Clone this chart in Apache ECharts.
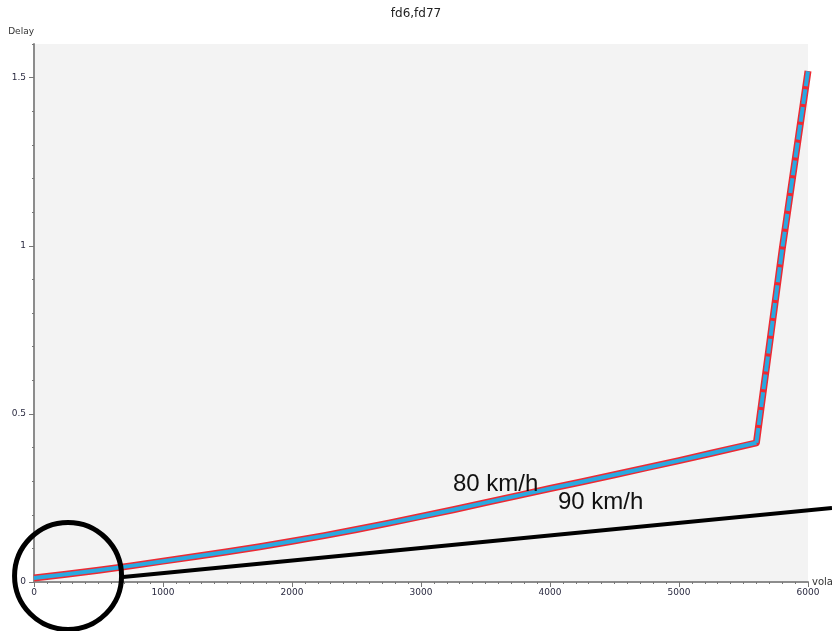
<!DOCTYPE html>
<html>
<head>
<meta charset="utf-8">
<title>fd6,fd77</title>
<script src="https://cdn.jsdelivr.net/npm/echarts@6/dist/echarts.min.js"></script>
<style>
    html, body { margin: 0; padding: 0; background: #fff; }
    #main { width: 832px; height: 631px; }
</style>
</head>
<body>
<div id="main"></div>
<script>
// 数据
var volau = [0, 250, 500, 750, 1000, 1250, 1500, 1750, 2000, 2250, 2500, 2750, 3000,
             3250, 3500, 3750, 4000, 4250, 4500, 4750, 5000, 5250, 5500, 5600, 5800, 6000];
var delay80 = [0.012, 0.023, 0.035, 0.048, 0.062, 0.076, 0.090, 0.105, 0.121, 0.138, 0.156, 0.175, 0.195,
               0.215, 0.236, 0.257, 0.278, 0.298, 0.319, 0.340, 0.361, 0.383, 0.405, 0.414, 0.99, 1.52];
var kneeVolau = 5600; // 之后画虚线

// 90 km/h 黑线 (标注, 画到图外)
var line90x = [690, 6186];
var line90y = [0.015, 0.220];

// 圈
var circleAt = [264, 0.018];

var yLabels = [0, 0.5, 1, 1.5];
var xLabels = [0, 1000, 2000, 3000, 4000, 5000, 6000];

function pairs(xs, ys) {
    var out = [];
    for (var i = 0; i < xs.length; i++) {
        out.push([xs[i], ys[i]]);
    }
    return out;
}

var all80 = pairs(volau, delay80);
var kneeIndex = volau.indexOf(kneeVolau);
var solid80 = all80.slice(0, kneeIndex + 1);
var dash80 = all80.slice(kneeIndex);

var labelFont = { fontFamily: 'DejaVu Sans', fontSize: 9, color: '#2a2a40' };
var axisLineGrey = { lineStyle: { color: '#8c8c8c', width: 2 } };
var plain = function (v) { return String(v); };

var myChart = echarts.init(document.getElementById('main'));
myChart.setOption({
    animation: false,
    title: {
        text: 'fd6,fd77',
        left: 'center',
        top: 3,
        textStyle: { fontFamily: 'DejaVu Sans', fontSize: 12, fontWeight: 'normal', color: '#222' }
    },
    grid: {
        left: 34, right: 24, top: 44, bottom: 49,
        outerBoundsMode: 'none',
        show: true, backgroundColor: '#f3f3f3', borderWidth: 0
    },
    xAxis: [{
        type: 'value',
        min: 0, max: 6000, interval: 100,
        name: 'volau',
        nameLocation: 'end',
        nameGap: 4,
        nameTextStyle: { fontFamily: 'DejaVu Sans', fontSize: 10, color: '#333' },
        axisLine: axisLineGrey,
        axisTick: { length: 2, lineStyle: { color: '#777' } },
        axisLabel: Object.assign({ margin: 6, customValues: xLabels, formatter: plain }, labelFont),
        splitLine: { show: false }
    }, {
        type: 'value',
        position: 'bottom',
        min: 0, max: 6000,
        axisLine: { show: false },
        axisTick: { length: 5, customValues: xLabels, lineStyle: { color: '#777' } },
        axisLabel: { show: false },
        splitLine: { show: false }
    }],
    yAxis: [{
        type: 'value',
        min: 0, max: 1.6, interval: 0.1,
        name: 'Delay',
        nameLocation: 'end',
        nameGap: 8,
        nameTextStyle: { fontFamily: 'DejaVu Sans', fontSize: 9, color: '#333', align: 'right' },
        axisLine: axisLineGrey,
        axisTick: { length: 2, lineStyle: { color: '#777' } },
        axisLabel: Object.assign({ margin: 8, customValues: yLabels, formatter: plain }, labelFont),
        splitLine: { show: false }
    }, {
        type: 'value',
        position: 'left',
        min: 0, max: 1.6,
        axisLine: { show: false },
        axisTick: { length: 5, customValues: yLabels, lineStyle: { color: '#777' } },
        axisLabel: { show: false },
        splitLine: { show: false }
    }],
    graphic: [
        {
            id: 't80', type: 'text', left: 453, top: 472, z: 100,
            style: { text: '80 km/h', fill: '#111', font: '24px "Liberation Sans"' }
        },
        {
            id: 't90', type: 'text', left: 558, top: 490, z: 100,
            style: { text: '90 km/h', fill: '#111', font: '24px "Liberation Sans"' }
        }
    ],
    series: [
        {
            name: '80 km/h',
            type: 'line',
            data: all80,
            symbol: 'none',
            lineStyle: { color: '#ec2a33', width: 7, join: 'round' },
            z: 3
        },
        {
            name: '80 km/h blue',
            type: 'line',
            data: solid80,
            symbol: 'none',
            lineStyle: { color: '#29a9e1', width: 4, join: 'round' },
            z: 4
        },
        {
            name: '80 km/h blue dash',
            type: 'line',
            data: dash80,
            symbol: 'none',
            lineStyle: { color: '#29a9e1', width: 4, type: [15, 3] },
            z: 4
        },
        {
            name: 'circle',
            type: 'scatter',
            data: [circleAt],
            symbol: 'circle',
            symbolSize: 107,
            clip: false,
            itemStyle: { color: 'rgba(0,0,0,0)', borderColor: '#000', borderWidth: 5, opacity: 1 },
            z: 10
        }
    ]
});

// 90 km/h 线超出坐标轴范围, 用 convertToPixel 换算后画
var finder = { xAxisIndex: 0, yAxisIndex: 0 };
var p0 = myChart.convertToPixel(finder, [line90x[0], line90y[0]]);
var p1 = myChart.convertToPixel(finder, [line90x[1], line90y[1]]);
myChart.setOption({
    graphic: [{
        id: 'line90',
        type: 'line',
        z: 2,
        shape: { x1: p0[0], y1: p0[1], x2: p1[0], y2: p1[1] },
        style: { stroke: '#000', lineWidth: 4 }
    }]
});
</script>
</body>
</html>
